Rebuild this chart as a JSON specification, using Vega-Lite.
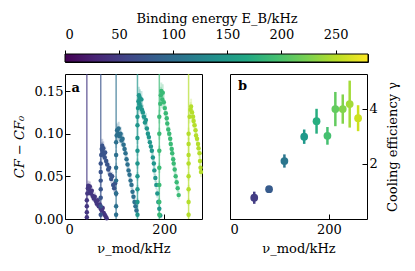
{
  "$schema": "https://vega.github.io/schema/vega-lite/v6.json",
  "background": "white",
  "padding": {"left": 12, "top": 11, "right": 5, "bottom": 5},
  "config": {
    "font": "DejaVu Serif",
    "text": {"font": "DejaVu Serif"},
    "view": {"stroke": "black", "strokeWidth": 1},
    "axis": {
      "domain": false, "grid": false, "tickSize": -5, "tickColor": "black", "tickWidth": 1,
      "labelFont": "DejaVu Serif", "titleFont": "DejaVu Serif",
      "labelFontSize": 13, "titleFontSize": 13, "titleFontWeight": "normal",
      "labelColor": "black", "titleColor": "black", "labelPadding": 7
    }
  },
  "datasets": {
    "lines": [{"eb": 44}, {"eb": 72}, {"eb": 103}, {"eb": 146}, {"eb": 190}, {"eb": 249}],
    "scans": [
      {"eb":44,"x":44,"y":0.002,"e":0.003},{"eb":44,"x":44,"y":0.008,"e":0.003},{"eb":44,"x":44,"y":0.015,"e":0.004},{"eb":44,"x":44,"y":0.022,"e":0.004},{"eb":44,"x":45,"y":0.030,"e":0.005},{"eb":44,"x":46,"y":0.036,"e":0.005},{"eb":44,"x":47,"y":0.039,"e":0.006},{"eb":44,"x":49,"y":0.034,"e":0.005},{"eb":44,"x":50,"y":0.038,"e":0.006},{"eb":44,"x":52,"y":0.030,"e":0.005},{"eb":44,"x":54,"y":0.033,"e":0.005},{"eb":44,"x":56,"y":0.027,"e":0.005},{"eb":44,"x":58,"y":0.024,"e":0.004},{"eb":44,"x":60,"y":0.026,"e":0.005},{"eb":44,"x":62,"y":0.021,"e":0.004},{"eb":44,"x":64,"y":0.018,"e":0.004},{"eb":44,"x":66,"y":0.022,"e":0.004},{"eb":44,"x":68,"y":0.015,"e":0.004},{"eb":44,"x":70,"y":0.017,"e":0.004},{"eb":44,"x":72,"y":0.012,"e":0.003},{"eb":44,"x":74,"y":0.010,"e":0.003},{"eb":44,"x":76,"y":0.013,"e":0.003},{"eb":44,"x":78,"y":0.007,"e":0.003},{"eb":44,"x":80,"y":0.005,"e":0.003},{"eb":44,"x":82,"y":0.003,"e":0.002},{"eb":44,"x":84,"y":0.001,"e":0.002},
      {"eb":72,"x":72,"y":0.005,"e":0.003},{"eb":72,"x":72,"y":0.015,"e":0.004},{"eb":72,"x":72,"y":0.025,"e":0.004},{"eb":72,"x":72,"y":0.035,"e":0.005},{"eb":72,"x":72,"y":0.045,"e":0.005},{"eb":72,"x":72,"y":0.055,"e":0.006},{"eb":72,"x":72,"y":0.065,"e":0.006},{"eb":72,"x":73,"y":0.075,"e":0.007},{"eb":72,"x":74,"y":0.082,"e":0.008},{"eb":72,"x":75,"y":0.086,"e":0.008},{"eb":72,"x":76,"y":0.079,"e":0.007},{"eb":72,"x":77,"y":0.083,"e":0.008},{"eb":72,"x":78,"y":0.076,"e":0.007},{"eb":72,"x":80,"y":0.072,"e":0.007},{"eb":72,"x":81,"y":0.078,"e":0.007},{"eb":72,"x":83,"y":0.068,"e":0.006},{"eb":72,"x":85,"y":0.064,"e":0.006},{"eb":72,"x":87,"y":0.058,"e":0.006},{"eb":72,"x":89,"y":0.060,"e":0.006},{"eb":72,"x":91,"y":0.052,"e":0.005},{"eb":72,"x":93,"y":0.047,"e":0.005},{"eb":72,"x":95,"y":0.050,"e":0.005},{"eb":72,"x":97,"y":0.040,"e":0.005},{"eb":72,"x":99,"y":0.036,"e":0.005},{"eb":72,"x":101,"y":0.042,"e":0.005},{"eb":72,"x":103,"y":0.030,"e":0.004},
      {"eb":103,"x":103,"y":0.005,"e":0.003},{"eb":103,"x":103,"y":0.015,"e":0.004},{"eb":103,"x":103,"y":0.030,"e":0.004},{"eb":103,"x":103,"y":0.045,"e":0.005},{"eb":103,"x":103,"y":0.060,"e":0.006},{"eb":103,"x":103,"y":0.075,"e":0.006},{"eb":103,"x":103,"y":0.090,"e":0.007},{"eb":103,"x":104,"y":0.098,"e":0.008},{"eb":103,"x":105,"y":0.104,"e":0.008},{"eb":103,"x":107,"y":0.100,"e":0.008},{"eb":103,"x":108,"y":0.106,"e":0.008},{"eb":103,"x":110,"y":0.097,"e":0.008},{"eb":103,"x":112,"y":0.100,"e":0.008},{"eb":103,"x":114,"y":0.092,"e":0.007},{"eb":103,"x":116,"y":0.094,"e":0.007},{"eb":103,"x":118,"y":0.087,"e":0.007},{"eb":103,"x":120,"y":0.082,"e":0.007},{"eb":103,"x":122,"y":0.077,"e":0.006},{"eb":103,"x":124,"y":0.070,"e":0.006},{"eb":103,"x":126,"y":0.064,"e":0.006},{"eb":103,"x":128,"y":0.057,"e":0.006},{"eb":103,"x":130,"y":0.052,"e":0.005},{"eb":103,"x":132,"y":0.045,"e":0.005},{"eb":103,"x":134,"y":0.040,"e":0.005},{"eb":103,"x":136,"y":0.032,"e":0.005},{"eb":103,"x":138,"y":0.026,"e":0.004},{"eb":103,"x":140,"y":0.020,"e":0.004},{"eb":103,"x":142,"y":0.015,"e":0.004},{"eb":103,"x":144,"y":0.010,"e":0.003},
      {"eb":146,"x":146,"y":0.005,"e":0.003},{"eb":146,"x":146,"y":0.020,"e":0.004},{"eb":146,"x":146,"y":0.035,"e":0.005},{"eb":146,"x":146,"y":0.050,"e":0.005},{"eb":146,"x":146,"y":0.065,"e":0.006},{"eb":146,"x":146,"y":0.080,"e":0.006},{"eb":146,"x":146,"y":0.095,"e":0.007},{"eb":146,"x":146,"y":0.110,"e":0.008},{"eb":146,"x":146,"y":0.120,"e":0.008},{"eb":146,"x":147,"y":0.130,"e":0.009},{"eb":146,"x":148,"y":0.138,"e":0.009},{"eb":146,"x":149,"y":0.145,"e":0.010},{"eb":146,"x":150,"y":0.135,"e":0.009},{"eb":146,"x":151,"y":0.142,"e":0.010},{"eb":146,"x":152,"y":0.132,"e":0.009},{"eb":146,"x":154,"y":0.140,"e":0.010},{"eb":146,"x":155,"y":0.128,"e":0.009},{"eb":146,"x":157,"y":0.125,"e":0.009},{"eb":146,"x":159,"y":0.120,"e":0.008},{"eb":146,"x":161,"y":0.113,"e":0.008},{"eb":146,"x":163,"y":0.116,"e":0.008},{"eb":146,"x":165,"y":0.106,"e":0.008},{"eb":146,"x":167,"y":0.100,"e":0.008},{"eb":146,"x":169,"y":0.096,"e":0.007},{"eb":146,"x":171,"y":0.090,"e":0.007},{"eb":146,"x":173,"y":0.085,"e":0.007},{"eb":146,"x":175,"y":0.080,"e":0.007},{"eb":146,"x":177,"y":0.072,"e":0.006},{"eb":146,"x":179,"y":0.065,"e":0.006},{"eb":146,"x":180,"y":0.057,"e":0.006},{"eb":146,"x":182,"y":0.048,"e":0.005},{"eb":146,"x":184,"y":0.040,"e":0.005},{"eb":146,"x":186,"y":0.030,"e":0.005},{"eb":146,"x":188,"y":0.020,"e":0.004},{"eb":146,"x":190,"y":0.012,"e":0.004},{"eb":146,"x":192,"y":0.004,"e":0.003},
      {"eb":190,"x":190,"y":0.005,"e":0.003},{"eb":190,"x":190,"y":0.020,"e":0.004},{"eb":190,"x":190,"y":0.040,"e":0.005},{"eb":190,"x":190,"y":0.060,"e":0.006},{"eb":190,"x":190,"y":0.080,"e":0.006},{"eb":190,"x":190,"y":0.100,"e":0.007},{"eb":190,"x":190,"y":0.120,"e":0.008},{"eb":190,"x":192,"y":0.135,"e":0.009},{"eb":190,"x":193,"y":0.145,"e":0.010},{"eb":190,"x":194,"y":0.150,"e":0.010},{"eb":190,"x":196,"y":0.140,"e":0.010},{"eb":190,"x":197,"y":0.148,"e":0.010},{"eb":190,"x":199,"y":0.137,"e":0.009},{"eb":190,"x":201,"y":0.130,"e":0.009},{"eb":190,"x":203,"y":0.124,"e":0.009},{"eb":190,"x":205,"y":0.118,"e":0.008},{"eb":190,"x":206,"y":0.112,"e":0.008},{"eb":190,"x":208,"y":0.105,"e":0.008},{"eb":190,"x":210,"y":0.100,"e":0.008},{"eb":190,"x":212,"y":0.094,"e":0.007},{"eb":190,"x":213,"y":0.088,"e":0.007},{"eb":190,"x":215,"y":0.082,"e":0.007},{"eb":190,"x":216,"y":0.077,"e":0.007},{"eb":190,"x":218,"y":0.070,"e":0.006},{"eb":190,"x":219,"y":0.065,"e":0.006},{"eb":190,"x":221,"y":0.058,"e":0.006},{"eb":190,"x":223,"y":0.050,"e":0.006},{"eb":190,"x":225,"y":0.043,"e":0.005},{"eb":190,"x":227,"y":0.036,"e":0.005},{"eb":190,"x":229,"y":0.028,"e":0.005},
      {"eb":249,"x":249,"y":0.005,"e":0.003},{"eb":249,"x":249,"y":0.020,"e":0.004},{"eb":249,"x":249,"y":0.035,"e":0.005},{"eb":249,"x":249,"y":0.050,"e":0.005},{"eb":249,"x":249,"y":0.065,"e":0.006},{"eb":249,"x":249,"y":0.075,"e":0.006},{"eb":249,"x":249,"y":0.088,"e":0.007},{"eb":249,"x":249,"y":0.100,"e":0.007},{"eb":249,"x":251,"y":0.120,"e":0.008},{"eb":249,"x":253,"y":0.128,"e":0.009},{"eb":249,"x":254,"y":0.132,"e":0.009},{"eb":249,"x":256,"y":0.125,"e":0.009},{"eb":249,"x":258,"y":0.120,"e":0.008},{"eb":249,"x":259,"y":0.115,"e":0.008},{"eb":249,"x":261,"y":0.110,"e":0.008},{"eb":249,"x":263,"y":0.104,"e":0.008},{"eb":249,"x":264,"y":0.098,"e":0.007},{"eb":249,"x":266,"y":0.094,"e":0.007},{"eb":249,"x":268,"y":0.088,"e":0.007},{"eb":249,"x":269,"y":0.083,"e":0.007},{"eb":249,"x":271,"y":0.077,"e":0.006},{"eb":249,"x":272,"y":0.068,"e":0.006},{"eb":249,"x":273,"y":0.060,"e":0.006},{"eb":249,"x":274,"y":0.055,"e":0.006}
    ],
    "gamma": [
      {"eb":49,"x":49,"y":0.77,"e":0.22},{"eb":79,"x":79,"y":1.08,"e":0.08},{"eb":110,"x":110,"y":2.10,"e":0.24},{"eb":150,"x":150,"y":2.98,"e":0.26},{"eb":175,"x":175,"y":3.54,"e":0.45},{"eb":197,"x":197,"y":3.01,"e":0.32},{"eb":213,"x":213,"y":3.98,"e":0.62},{"eb":228,"x":228,"y":3.98,"e":0.53},{"eb":242,"x":242,"y":4.16,"e":0.85},{"eb":259,"x":259,"y":3.65,"e":0.47}
    ]
  },
  "vconcat": [
    {
      "width": 303, "height": 8,
      "data": {"values": [{"lo": 0, "hi": 280}]},
      "mark": {"type": "rect", "stroke": "black", "strokeWidth": 1,
        "fill": {"gradient": "linear", "x1": 0, "y1": 0, "x2": 1, "y2": 0, "stops": [
          {"offset": 0, "color": "#440154"}, {"offset": 0.1, "color": "#482475"}, {"offset": 0.2, "color": "#414487"},
          {"offset": 0.3, "color": "#355f8d"}, {"offset": 0.4, "color": "#2a788e"}, {"offset": 0.5, "color": "#21918c"},
          {"offset": 0.6, "color": "#22a884"}, {"offset": 0.7, "color": "#44bf70"}, {"offset": 0.8, "color": "#7ad151"},
          {"offset": 0.9, "color": "#bddf26"}, {"offset": 1, "color": "#fde725"}]}},
      "encoding": {
        "x": {"field": "lo", "type": "quantitative", "scale": {"domain": [0, 280], "nice": false},
          "axis": {"orient": "top", "values": [0, 50, 100, 150, 200, 250], "tickSize": 4, "labelPadding": 9,
            "title": "Binding energy E_B/kHz", "titlePadding": 3}},
        "x2": {"field": "hi"}
      }
    },
    {
      "spacing": 25,
      "hconcat": [
        {
          "width": 137, "height": 145,
          "layer": [
            {"data": {"name": "lines"}, "mark": {"type": "rule", "strokeWidth": 1.5, "opacity": 0.7},
              "encoding": {"x": {"field": "eb", "type": "quantitative"},
                "color": {"field": "eb", "type": "quantitative", "scale": {"scheme": "viridis", "domain": [0, 280]}, "legend": null}}},
            {"data": {"name": "scans"}, "mark": {"type": "errorbar", "ticks": false, "opacity": 0.25, "rule": {"strokeWidth": 2}},
              "encoding": {"x": {"field": "x", "type": "quantitative"},
                "y": {"field": "y", "type": "quantitative", "title": "CF − CF₀"}, "yError": {"field": "e"},
                "color": {"field": "eb", "type": "quantitative", "legend": null}}},
            {"data": {"name": "scans"}, "mark": {"type": "circle", "size": 20, "opacity": 1},
              "encoding": {
                "x": {"field": "x", "type": "quantitative", "scale": {"domain": [0, 276], "nice": false},
                  "axis": {"values": [0, 200], "title": "ν_mod/kHz", "titlePadding": 6, "labelPadding": 9}},
                "y": {"field": "y", "type": "quantitative", "scale": {"domain": [0, 0.17], "nice": false},
                  "axis": {"values": [0, 0.05, 0.1, 0.15], "format": ".2f", "title": "CF − CF₀", "titleFontStyle": "italic", "titlePadding": 8}},
                "color": {"field": "eb", "type": "quantitative", "legend": null}}},
            {"data": {"values": [{}]},
              "mark": {"type": "text", "text": "a", "fontWeight": "bold", "fontSize": 13, "align": "left", "baseline": "alphabetic", "color": "black"},
              "encoding": {"x": {"datum": 13}, "y": {"datum": 0.149}}}
          ]
        },
        {
          "width": 137, "height": 145,
          "layer": [
            {"data": {"name": "gamma"}, "mark": {"type": "errorbar", "ticks": false, "rule": {"strokeWidth": 2.5}},
              "encoding": {"x": {"field": "x", "type": "quantitative"},
                "y": {"field": "y", "type": "quantitative", "title": "Cooling efficiency γ"}, "yError": {"field": "e"},
                "color": {"field": "eb", "type": "quantitative", "legend": null}}},
            {"data": {"name": "gamma"}, "mark": {"type": "circle", "size": 60, "opacity": 1},
              "encoding": {
                "x": {"field": "x", "type": "quantitative", "scale": {"domain": [0, 277], "nice": false},
                  "axis": {"values": [0, 200], "title": "ν_mod/kHz", "titlePadding": 6, "labelPadding": 9}},
                "y": {"field": "y", "type": "quantitative", "scale": {"domain": [0.3, 5.25], "nice": false},
                  "axis": {"orient": "right", "values": [2, 4], "title": "Cooling efficiency γ", "titleAngle": 270, "titleBaseline": "top", "titlePadding": 9}},
                "color": {"field": "eb", "type": "quantitative", "legend": null}}},
            {"data": {"values": [{}]},
              "mark": {"type": "text", "text": "b", "fontWeight": "bold", "fontSize": 13, "align": "left", "baseline": "alphabetic", "color": "black"},
              "encoding": {"x": {"datum": 16}, "y": {"datum": 4.67}}}
          ]
        }
      ]
    }
  ],
  "spacing": 9
}
